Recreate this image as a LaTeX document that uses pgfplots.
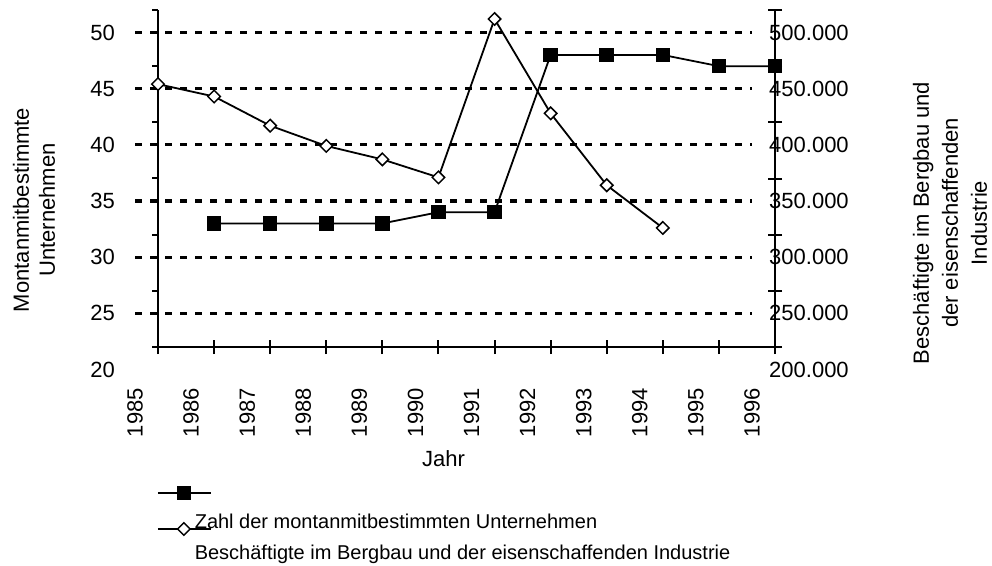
\documentclass[border=0pt]{standalone}
\usepackage{pgfplots}
\pgfplotsset{compat=1.18}
\usepackage{fontspec}
\setmainfont{Liberation Sans}
\newcommand{\ff}{\fontsize{22}{25}\selectfont}
\newcommand{\lf}{\fontsize{20}{24}\selectfont}
\pgfplotsset{
  legone/.style={legend image code/.code={\path (0pt,0pt); \draw[overlay,mark repeat=2,mark phase=2,##1] plot coordinates {(-36pt,35pt)(-10pt,35pt)(17pt,35pt)};}},
  legtwo/.style={legend image code/.code={\path (0pt,0pt); \draw[overlay,mark repeat=2,mark phase=2,##1] plot coordinates {(-36pt,30pt)(-10pt,30pt)(17pt,30pt)};}},
}
\begin{document}
\begin{tikzpicture}[x=1pt,y=1pt]
\useasboundingbox (0,0) rectangle (992,565);
% ghost axis (left): tick labels, grid, axis titles
\begin{axis}[
  at={(135pt,195.5pt)}, anchor=south west,
  scale only axis, width=617pt, height=337pt,
  xmin=0, xmax=11, ymin=20, ymax=50,
  axis line style={draw=none},
  major tick length=0pt, tick style={draw=none},
  xtick={0,...,11},
  xticklabels={1985,1986,1987,1988,1989,1990,1991,1992,1993,1994,1995,1996},
  xticklabel style={yshift=-18.5pt, rotate=90, anchor=east, inner sep=0pt, font=\ff},
  ytick={25,30,35,40,45,50},
  yticklabels={25,30,35,40,45,50},
  extra y ticks={20}, extra y tick labels={20},
  extra y tick style={grid=none},
  yticklabel style={xshift=-20pt, anchor=east, inner sep=0pt, font=\ff},
  ymajorgrids,
  major grid style={black, line width=3.3pt, dash pattern=on 6.5pt off 8.5pt},
  xlabel={Jahr},
  xlabel style={at={(axis description cs:0.5,-0.2656)}, anchor=center, font=\ff},
  ylabel={Montanmitbestimmte\\Unternehmen},
  ylabel style={at={(axis description cs:-0.1637,0.4733)}, anchor=center, align=center, font=\fontsize{22}{26}\selectfont},
]
\end{axis}
% ghost axis (right): tick labels and title
\begin{axis}[
  at={(135pt,195.5pt)}, anchor=south west,
  scale only axis, width=617pt, height=337pt,
  xmin=0, xmax=11, ymin=200000, ymax=500000,
  axis line style={draw=none},
  major tick length=0pt, tick style={draw=none},
  xtick=\empty,
  scaled y ticks=false,
  ytick={200000,250000,300000,350000,400000,450000,500000},
  yticklabels={200.000,250.000,300.000,350.000,400.000,450.000,500.000},
  yticklabel pos=right,
  yticklabel style={xshift=17pt, anchor=west, inner sep=0pt, font=\ff},
  ylabel={Beschäftigte im Bergbau und\\der eisenschaffenden\\Industrie},
  ylabel style={at={(axis description cs:1.3209,0.4347)}, anchor=center, align=center, font=\fontsize{22}{29}\selectfont},
]
\end{axis}
% real left axis with squares
\begin{axis}[
  at={(158pt,218pt)}, anchor=south west,
  scale only axis, width=617pt, height=337pt,
  xmin=0, xmax=11, ymin=22, ymax=52,
  axis x line=none, axis y line*=left,
  axis line style={line width=2pt, black},
  xtick=\empty,
  ytick={22,27,32,37,42,47,52}, yticklabels={},
  tick align=outside, major tick length=6pt,
  tick style={line width=2pt, black},
  clip=false,
]
\addplot[black, line width=1.8pt, mark=square*, mark size=6.8pt, mark options={solid, line width=1pt}]
 coordinates {(1,33)(2,33)(3,33)(4,33)(5,34)(6,34)(7,48)(8,48)(9,48)(10,47)(11,47)};
\end{axis}
% real right axis with diamonds, bottom axis and legend
\begin{axis}[
  at={(158pt,218pt)}, anchor=south west,
  scale only axis, width=617pt, height=337pt,
  xmin=0, xmax=11, ymin=220000, ymax=520000,
  axis x line*=bottom, axis y line*=right,
  axis line style={line width=2pt, black},
  xtick={0,...,11}, xticklabels={},
  scaled y ticks=false,
  ytick={220000,270000,320000,370000,420000,470000,520000}, yticklabels={},
  tick align=center, major tick length=14pt,
  tick style={line width=2pt, black},
  clip=false,
  legend cell align=left,
  legend style={draw=none, fill=none, inner sep=0pt, outer sep=0pt, row sep=11pt,
    at={(axis description cs:0.0567,-0.4926)}, anchor=north west,
    nodes={inner sep=0pt, font=\lf, text height=15pt, text depth=5pt},
    cells={anchor=base west}},
]
\addlegendimage{black, line width=1.8pt, mark=square*, mark size=6.8pt, mark options={solid, line width=1pt}, legone}
\addlegendentry{Zahl der montanmitbestimmten Unternehmen}
\addplot[black, line width=1.8pt, mark=square*, mark size=4.4pt, mark options={solid, rotate=45, fill=white, line width=1.5pt}, legtwo]
 coordinates {(0,454000)(1,443000)(2,417000)(3,399000)(4,387000)(5,371000)(6,512000)(7,428000)(8,364000)(9,326000)};
\addlegendentry{Beschäftigte im Bergbau und der eisenschaffenden Industrie}
\end{axis}
\end{tikzpicture}
\end{document}
